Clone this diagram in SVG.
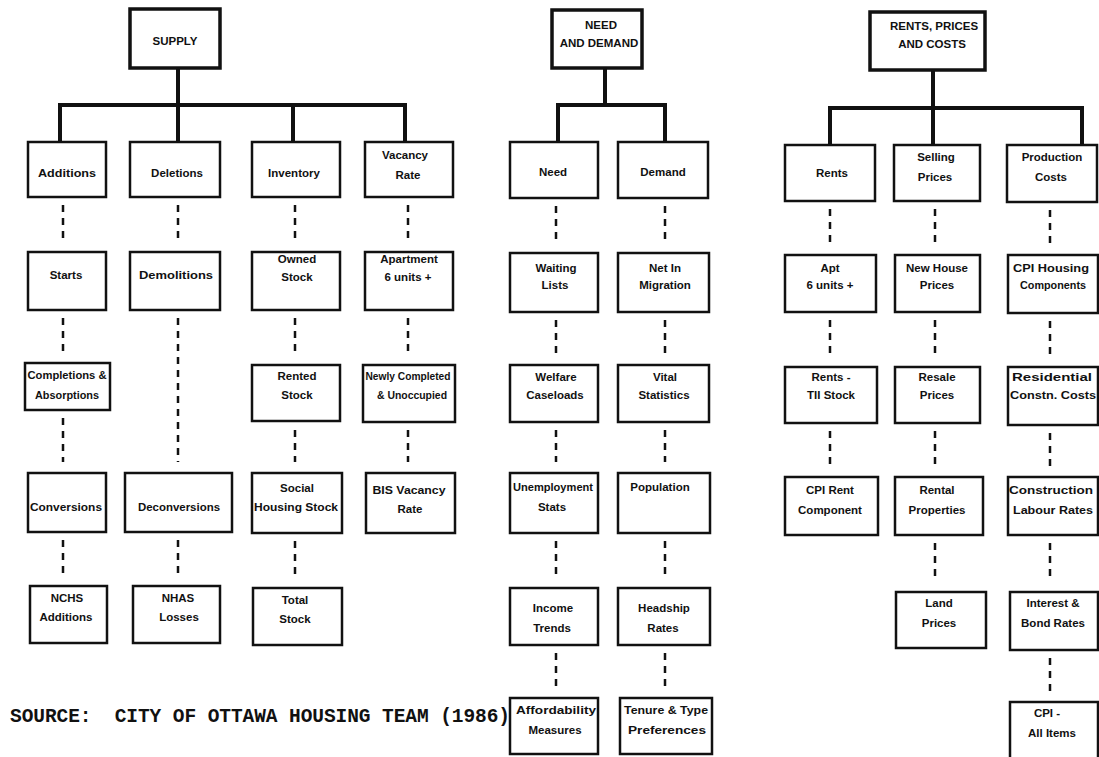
<svg xmlns="http://www.w3.org/2000/svg" width="1099" height="757" viewBox="0 0 1099 757">
<style>
.bx{fill:#fff;stroke:#111;stroke-width:2.5}
.top{fill:#fff;stroke:#111;stroke-width:3.5}
.t{font-family:"Liberation Sans",Arial,sans-serif;font-weight:bold;font-size:11.5px;fill:#111;text-anchor:middle}
.tree{fill:none;stroke:#111;stroke-width:4;stroke-linejoin:miter}
.dot{fill:none;stroke:#111;stroke-width:2.5;stroke-dasharray:7 6}
.src{font-family:"Liberation Mono","Courier New",monospace;font-weight:bold;font-size:19.5px;fill:#111}
</style>
<rect width="1099" height="757" fill="#fff"/>
<g id="connectors">
<path class="tree" d="M178 68V105M60 142V105H405V142M178 105V142M293 105V142"/>
<path class="tree" d="M605 68V105M558 142V105H665V142"/>
<path class="tree" d="M933 70V108M830 145V108H1082V145M933 108V145"/>
<path class="dot" d="M63 205V240M63 318V352M63 418V462M63 540V576"/>
<path class="dot" d="M178 205V240M178 318V462M178 540V576"/>
<path class="dot" d="M295 205V240M295 318V354M295 430V462M295 541V578"/>
<path class="dot" d="M408 205V240M408 318V354M408 430V462"/>
<path class="dot" d="M556 206V241M556 320V354M556 430V462M556 541V578M556 653V688"/>
<path class="dot" d="M665 206V241M665 320V354M665 430V462M665 541V578M665 653V688"/>
<path class="dot" d="M830 209V244M830 320V356M830 431V466"/>
<path class="dot" d="M935 209V244M935 320V356M935 431V466M935 543V581"/>
<path class="dot" d="M1050 210V244M1050 321V356M1050 433V466M1050 543V581M1050 658V692"/>
</g>
<g id="n-supply"><rect class="top" x="130" y="9" width="90" height="59"/><text class="t" x="175" y="45">SUPPLY</text></g>
<g id="n-additions"><rect class="bx" x="28" y="142" width="78" height="55"/><text class="t" x="67" y="177" textLength="58" lengthAdjust="spacingAndGlyphs">Additions</text></g>
<g id="n-deletions"><rect class="bx" x="130" y="142" width="90" height="55"/><text class="t" x="177" y="177">Deletions</text></g>
<g id="n-inventory"><rect class="bx" x="252" y="142" width="88" height="55"/><text class="t" x="294" y="177">Inventory</text></g>
<g id="n-vacancy"><rect class="bx" x="365" y="142" width="88" height="55"/><text class="t" x="405" y="159">Vacancy</text><text class="t" x="408" y="179">Rate</text></g>
<g id="n-starts"><rect class="bx" x="28" y="252" width="78" height="58"/><text class="t" x="66" y="279">Starts</text></g>
<g id="n-demolitions"><rect class="bx" x="130" y="252" width="90" height="58"/><text class="t" x="176" y="279" textLength="74" lengthAdjust="spacingAndGlyphs">Demolitions</text></g>
<g id="n-owned"><rect class="bx" x="252" y="252" width="88" height="58"/><text class="t" x="297" y="263">Owned</text><text class="t" x="297" y="281">Stock</text></g>
<g id="n-apartment"><rect class="bx" x="365" y="252" width="88" height="58"/><text class="t" x="409" y="263">Apartment</text><text class="t" x="408" y="281">6 units +</text></g>
<g id="n-completions"><rect class="bx" x="25" y="363" width="85" height="47"/><text class="t" x="67" y="379" textLength="79" lengthAdjust="spacingAndGlyphs">Completions &amp;</text><text class="t" x="67" y="399" textLength="64" lengthAdjust="spacingAndGlyphs">Absorptions</text></g>
<g id="n-rented"><rect class="bx" x="252" y="365" width="88" height="56"/><text class="t" x="297" y="380">Rented</text><text class="t" x="297" y="399">Stock</text></g>
<g id="n-newly"><rect class="bx" x="363" y="365" width="92" height="57"/><text class="t" x="408" y="380" textLength="85" lengthAdjust="spacingAndGlyphs">Newly Completed</text><text class="t" x="412" y="399" textLength="70" lengthAdjust="spacingAndGlyphs">&amp; Unoccupied</text></g>
<g id="n-conversions"><rect class="bx" x="28" y="473" width="78" height="59"/><text class="t" x="66" y="511" textLength="72" lengthAdjust="spacingAndGlyphs">Conversions</text></g>
<g id="n-deconversions"><rect class="bx" x="125" y="473" width="107" height="59"/><text class="t" x="179" y="511" textLength="82" lengthAdjust="spacingAndGlyphs">Deconversions</text></g>
<g id="n-social"><rect class="bx" x="252" y="473" width="90" height="60"/><text class="t" x="297" y="492">Social</text><text class="t" x="296" y="511" textLength="84" lengthAdjust="spacingAndGlyphs">Housing Stock</text></g>
<g id="n-bis"><rect class="bx" x="366" y="473" width="89" height="60"/><text class="t" x="409" y="494" textLength="73" lengthAdjust="spacingAndGlyphs">BIS Vacancy</text><text class="t" x="410" y="513">Rate</text></g>
<g id="n-nchs"><rect class="bx" x="30" y="586" width="77" height="57"/><text class="t" x="67" y="602">NCHS</text><text class="t" x="66" y="621">Additions</text></g>
<g id="n-nhas"><rect class="bx" x="133" y="586" width="87" height="57"/><text class="t" x="178" y="602">NHAS</text><text class="t" x="179" y="621">Losses</text></g>
<g id="n-total"><rect class="bx" x="253" y="588" width="89" height="57"/><text class="t" x="295" y="604">Total</text><text class="t" x="295" y="623">Stock</text></g>

<g id="n-need-demand"><rect class="top" x="552" y="10" width="90" height="58"/><text class="t" x="601" y="29">NEED</text><text class="t" x="599" y="47">AND DEMAND</text></g>
<g id="n-need"><rect class="bx" x="510" y="142" width="88" height="56"/><text class="t" x="553" y="176">Need</text></g>
<g id="n-demand"><rect class="bx" x="618" y="142" width="90" height="56"/><text class="t" x="663" y="176">Demand</text></g>
<g id="n-waiting"><rect class="bx" x="510" y="253" width="88" height="59"/><text class="t" x="556" y="272">Waiting</text><text class="t" x="555" y="289">Lists</text></g>
<g id="n-netin"><rect class="bx" x="618" y="253" width="91" height="59"/><text class="t" x="665" y="272">Net In</text><text class="t" x="665" y="289">Migration</text></g>
<g id="n-welfare"><rect class="bx" x="510" y="365" width="88" height="57"/><text class="t" x="556" y="381">Welfare</text><text class="t" x="555" y="399">Caseloads</text></g>
<g id="n-vital"><rect class="bx" x="618" y="365" width="91" height="57"/><text class="t" x="665" y="381">Vital</text><text class="t" x="664" y="399">Statistics</text></g>
<g id="n-unemployment"><rect class="bx" x="510" y="473" width="88" height="60"/><text class="t" x="553" y="491" textLength="80" lengthAdjust="spacingAndGlyphs">Unemployment</text><text class="t" x="552" y="511">Stats</text></g>
<g id="n-population"><rect class="bx" x="618" y="473" width="92" height="60"/><text class="t" x="660" y="491">Population</text></g>
<g id="n-income"><rect class="bx" x="510" y="588" width="88" height="57"/><text class="t" x="553" y="612">Income</text><text class="t" x="552" y="632">Trends</text></g>
<g id="n-headship"><rect class="bx" x="618" y="588" width="92" height="57"/><text class="t" x="664" y="612">Headship</text><text class="t" x="663" y="632">Rates</text></g>
<g id="n-affordability"><rect class="bx" x="510" y="698" width="88" height="56"/><text class="t" x="556" y="714" textLength="80" lengthAdjust="spacingAndGlyphs">Affordability</text><text class="t" x="555" y="734">Measures</text></g>
<g id="n-tenure"><rect class="bx" x="620" y="698" width="92" height="56"/><text class="t" x="666" y="714" textLength="84" lengthAdjust="spacingAndGlyphs">Tenure &amp; Type</text><text class="t" x="667" y="734" textLength="78" lengthAdjust="spacingAndGlyphs">Preferences</text></g>

<g id="n-rpc"><rect class="top" x="870" y="12" width="115" height="58"/><text class="t" x="934" y="30">RENTS, PRICES</text><text class="t" x="932" y="48">AND COSTS</text></g>
<g id="n-rents"><rect class="bx" x="785" y="145" width="90" height="56"/><text class="t" x="832" y="177">Rents</text></g>
<g id="n-selling"><rect class="bx" x="894" y="145" width="86" height="56"/><text class="t" x="936" y="161">Selling</text><text class="t" x="935" y="181">Prices</text></g>
<g id="n-production"><rect class="bx" x="1007" y="145" width="90" height="57"/><text class="t" x="1052" y="161">Production</text><text class="t" x="1051" y="181">Costs</text></g>
<g id="n-apt"><rect class="bx" x="785" y="255" width="91" height="57"/><text class="t" x="830" y="272">Apt</text><text class="t" x="830" y="289">6 units +</text></g>
<g id="n-newhouse"><rect class="bx" x="895" y="255" width="85" height="57"/><text class="t" x="937" y="272">New House</text><text class="t" x="937" y="289">Prices</text></g>
<g id="n-cpihousing"><rect class="bx" x="1008" y="255" width="90" height="58"/><text class="t" x="1051" y="272" textLength="76" lengthAdjust="spacingAndGlyphs">CPI Housing</text><text class="t" x="1053" y="289" textLength="66" lengthAdjust="spacingAndGlyphs">Components</text></g>
<g id="n-rentstii"><rect class="bx" x="785" y="367" width="92" height="56"/><text class="t" x="831" y="381">Rents -</text><text class="t" x="831" y="399">TII Stock</text></g>
<g id="n-resale"><rect class="bx" x="895" y="367" width="85" height="56"/><text class="t" x="937" y="381">Resale</text><text class="t" x="937" y="399">Prices</text></g>
<g id="n-residential"><rect class="bx" x="1008" y="367" width="90" height="58"/><text class="t" x="1052" y="381" textLength="80" lengthAdjust="spacingAndGlyphs">Residential</text><text class="t" x="1053" y="399" textLength="86" lengthAdjust="spacingAndGlyphs">Constn. Costs</text></g>
<g id="n-cpirent"><rect class="bx" x="785" y="477" width="93" height="58"/><text class="t" x="830" y="494">CPI Rent</text><text class="t" x="830" y="514">Component</text></g>
<g id="n-rental"><rect class="bx" x="895" y="477" width="88" height="58"/><text class="t" x="937" y="494">Rental</text><text class="t" x="937" y="514">Properties</text></g>
<g id="n-construction"><rect class="bx" x="1008" y="477" width="90" height="58"/><text class="t" x="1051" y="494" textLength="84" lengthAdjust="spacingAndGlyphs">Construction</text><text class="t" x="1053" y="514" textLength="80" lengthAdjust="spacingAndGlyphs">Labour Rates</text></g>
<g id="n-land"><rect class="bx" x="896" y="592" width="90" height="56"/><text class="t" x="939" y="607">Land</text><text class="t" x="939" y="627">Prices</text></g>
<g id="n-interest"><rect class="bx" x="1010" y="592" width="88" height="58"/><text class="t" x="1053" y="607">Interest &amp;</text><text class="t" x="1053" y="627">Bond Rates</text></g>
<g id="n-cpiall"><rect class="bx" x="1010" y="702" width="88" height="60"/><text class="t" x="1047" y="717">CPI -</text><text class="t" x="1052" y="737">All Items</text></g>

<text class="src" x="10" y="722" xml:space="preserve" textLength="500" lengthAdjust="spacing">SOURCE:  CITY OF OTTAWA HOUSING TEAM (1986)</text>
</svg>
